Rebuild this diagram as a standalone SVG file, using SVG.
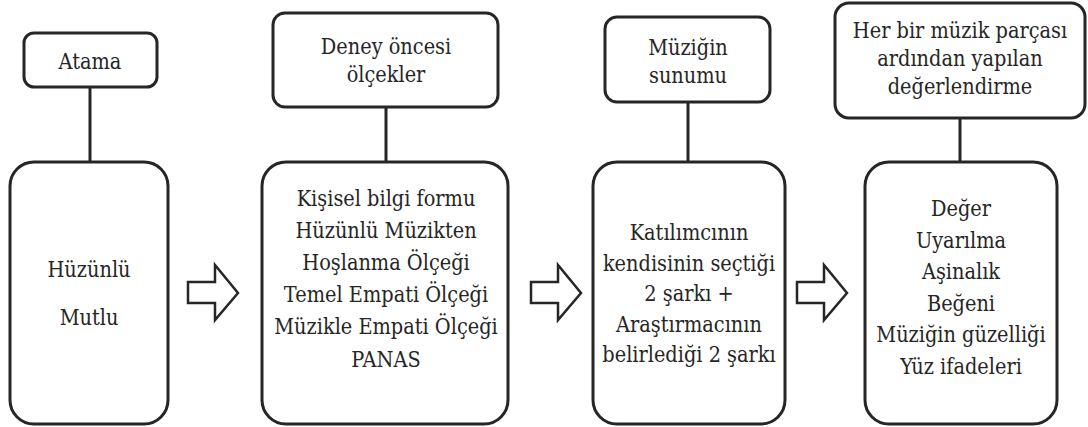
<svg xmlns="http://www.w3.org/2000/svg" width="1088" height="427" viewBox="0 0 1088 427">
<style>
.box{fill:#fff;stroke:#262626;stroke-width:3}
.arr{fill:#fff;stroke:#262626;stroke-width:2.5;stroke-linejoin:miter}
.ln{stroke:#262626;stroke-width:3;fill:none}
.t text{font-family:"DejaVu Serif",serif;font-size:21.5px;fill:#262626;text-anchor:middle}
</style>
<rect width="1088" height="427" fill="#fff"/>
<g id="connectors">
<line class="ln" x1="90" y1="87" x2="90" y2="162"/>
<line class="ln" x1="386" y1="107" x2="386" y2="162"/>
<line class="ln" x1="688" y1="102" x2="688" y2="162"/>
<line class="ln" x1="960" y1="118" x2="960" y2="162"/>
<path class="arr" d="M188,282 H215 V265 L238,293 L215,320 V303 H188 Z"/>
<path class="arr" transform="translate(343,0)" d="M188,282 H215 V265 L238,293 L215,320 V303 H188 Z"/>
<path class="arr" transform="translate(609,0)" d="M188,282 H215 V265 L238,293 L215,320 V303 H188 Z"/>
</g>
<g class="t">
<g id="atama">
<rect class="box" x="24" y="33" width="133" height="54" rx="10"/>
<g transform="translate(90,0) scale(0.9,1)"><text x="0" y="69">Atama</text></g>
</g>
<g id="grup">
<rect class="box" x="10" y="162" width="158" height="262" rx="24"/>
<g transform="translate(89,0) scale(0.9,1)">
<text x="0" y="277">Hüzünlü</text>
<text x="0" y="325">Mutlu</text>
</g>
</g>
<g id="deney">
<rect class="box" x="273" y="13" width="225" height="94" rx="12"/>
<g transform="translate(386,0) scale(0.9,1)">
<text x="0" y="54">Deney öncesi</text>
<text x="0" y="82">ölçekler</text>
</g>
</g>
<g id="olcekler">
<rect class="box" x="262" y="162" width="246" height="262" rx="24"/>
<g transform="translate(386,0) scale(0.9,1)">
<text x="0" y="206">Kişisel bilgi formu</text>
<text x="0" y="238">Hüzünlü Müzikten</text>
<text x="0" y="270">Hoşlanma Ölçeği</text>
<text x="0" y="302">Temel Empati Ölçeği</text>
<text x="0" y="334">Müzikle Empati Ölçeği</text>
<text x="0" y="367">PANAS</text>
</g>
</g>
<g id="sunum">
<rect class="box" x="605" y="17" width="165" height="85" rx="12"/>
<g transform="translate(688,0) scale(0.9,1)">
<text x="0" y="55">Müziğin</text>
<text x="0" y="83">sunumu</text>
</g>
</g>
<g id="sarkilar">
<rect class="box" x="593" y="162" width="192" height="262" rx="24"/>
<g transform="translate(689,0) scale(0.9,1)">
<text x="0" y="240">Katılımcının</text>
<text x="0" y="271">kendisinin seçtiği</text>
<text x="0" y="301">2 şarkı +</text>
<text x="0" y="332">Araştırmacının</text>
<text x="0" y="362">belirlediği 2 şarkı</text>
</g>
</g>
<g id="degerlendirme">
<rect class="box" x="835" y="3" width="250" height="115" rx="14"/>
<g transform="translate(960,0) scale(0.9,1)">
<text x="0" y="38">Her bir müzik parçası</text>
<text x="0" y="66">ardından yapılan</text>
<text x="0" y="94">değerlendirme</text>
</g>
</g>
<g id="olcumler">
<rect class="box" x="865" y="162" width="192" height="262" rx="24"/>
<g transform="translate(961,0) scale(0.9,1)">
<text x="0" y="216">Değer</text>
<text x="0" y="248">Uyarılma</text>
<text x="0" y="279">Aşinalık</text>
<text x="0" y="311">Beğeni</text>
<text x="0" y="342">Müziğin güzelliği</text>
<text x="0" y="374">Yüz ifadeleri</text>
</g>
</g>
</g>
</svg>
